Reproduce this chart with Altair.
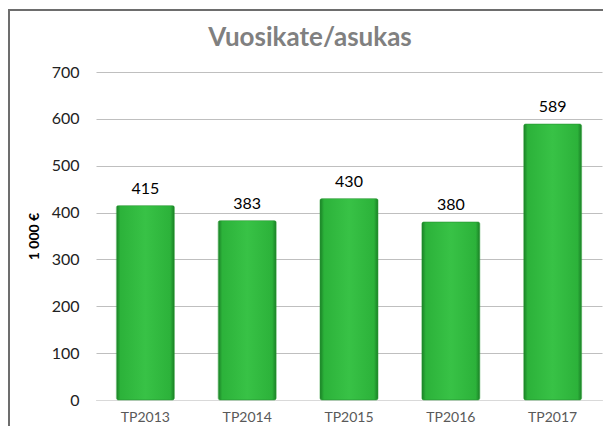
import altair as alt
import pandas as pd

categories = ["TP2013", "TP2014", "TP2015", "TP2016", "TP2017"]
values = [415, 383, 430, 380, 589]
title_text = ["Vuosikate/asukas"]

df = pd.DataFrame({"cat": categories, "val": values})
tdf = pd.DataFrame({"t": title_text})

FONT = "Lato"

base = alt.Chart(df)

frame = base.mark_rect(fill=None, stroke="#6e6e6e", strokeWidth=1.5).encode(
    x=alt.value(-87), x2=alt.value(540), y=alt.value(-62), y2=alt.value(380)
)

title = alt.Chart(tdf).mark_text(font=FONT, fontSize=26, fontWeight="bold", color="#808080",
                                  align="center", baseline="alphabetic").encode(
    x=alt.value(214), y=alt.value(-26), text="t:N"
)

grad = alt.Gradient(
    gradient="linear", x1=0, x2=1, y1=0, y2=0,
    stops=[
        alt.GradientStop(offset=0, color="#1a7f26"),
        alt.GradientStop(offset=0.07, color="#2cb23a"),
        alt.GradientStop(offset=0.5, color="#38c246"),
        alt.GradientStop(offset=0.93, color="#2cb23a"),
        alt.GradientStop(offset=1, color="#1a7f26"),
    ],
)

bars = base.mark_bar(color=grad, stroke="#2a9a35", strokeWidth=0.5, cornerRadius=2).encode(
    x=alt.X("cat:N", sort=categories,
            scale=alt.Scale(paddingInner=0.43, paddingOuter=0.2),
            axis=alt.Axis(title=None, labelAngle=0, labelFont=FONT, labelFontSize=14,
                          labelColor="#595959", ticks=False, domainColor="#d9d9d9",
                          labelPadding=10)),
    y=alt.Y("val:Q", scale=alt.Scale(domain=[0, 700]),
            axis=alt.Axis(title="1 000 €", titleFont=FONT, titleFontSize=14,
                          titleFontWeight="bold", titleColor="#000000", titlePadding=10,
                          values=[0, 100, 200, 300, 400, 500, 600, 700],
                          labelFont=FONT, labelFontSize=16, labelColor="#222222",
                          ticks=False, domain=False, gridColor="#bfbfbf",
                          labelPadding=17)),
)

labels = base.mark_text(font=FONT, fontSize=16, color="#000000", baseline="bottom", dy=-9).encode(
    x=alt.X("cat:N", sort=categories),
    y=alt.Y("val:Q"),
    text=alt.Text("val:Q"),
)

chart = alt.layer(frame, bars, labels, title).properties(
    width=506, height=328,
    autosize=alt.AutoSizeParams(type="none"),
    padding={"left": 88, "top": 64, "right": 1, "bottom": 26},
).configure_view(stroke=None)

chart.save("out.html", embed_options={"renderer": "svg", "actions": False})
